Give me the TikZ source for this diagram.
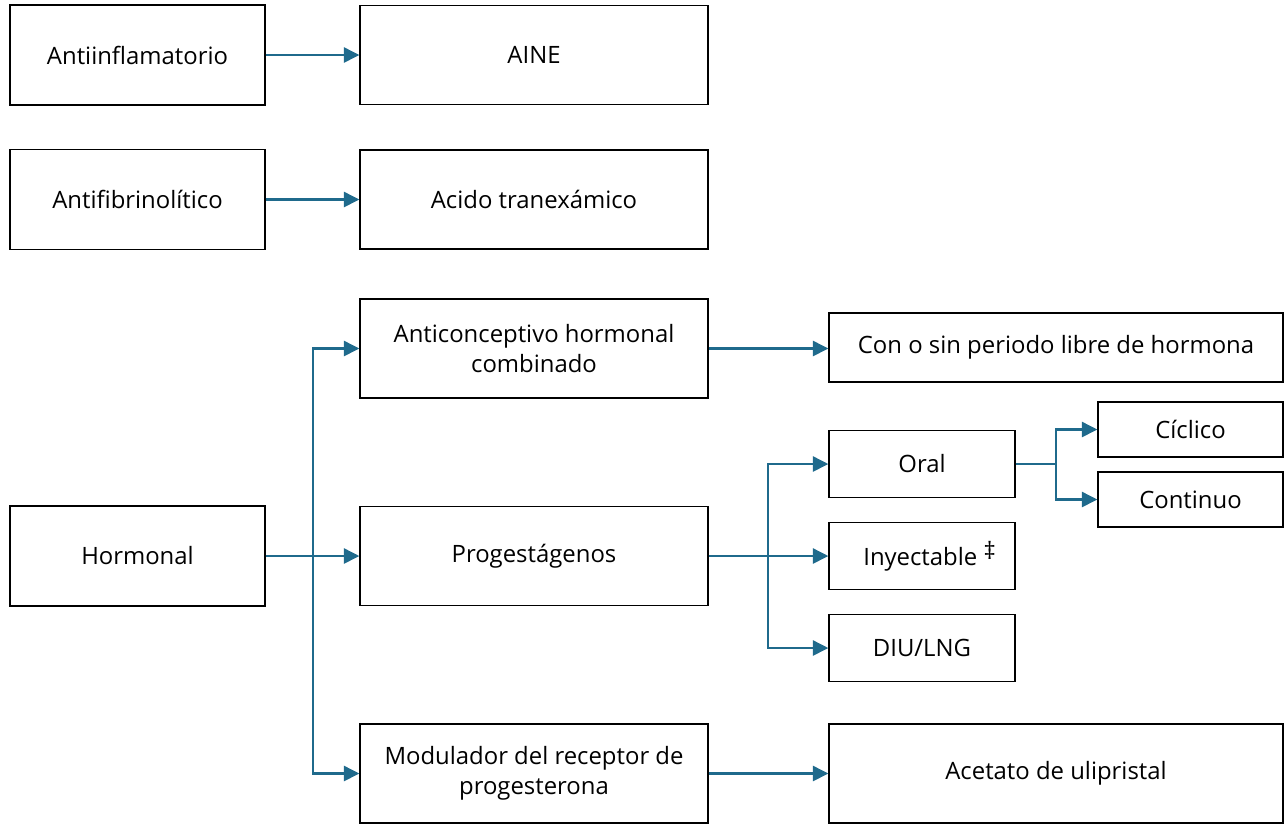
\documentclass[tikz,border=0pt]{standalone}
\usepackage{fontspec}
\setmainfont{Open Sans}
\usepackage{tikz}
\usetikzlibrary{positioning, arrows.meta, calc}
\definecolor{linkblue}{HTML}{1F6A8C}

\tikzset{
  box/.style={draw, line width=0.75pt, inner sep=2pt, align=center, font=\fontsize{13.6}{17}\selectfont},
  widebox/.style={box, minimum width=6.96cm, minimum height=1.98cm},
  leftbox/.style={box, minimum width=5.1cm, minimum height=2cm},
  smallbox/.style={box, minimum width=3.72cm, minimum height=1.34cm},
  tinybox/.style={box, minimum width=3.7cm, minimum height=1.1cm},
  arr/.style={draw=linkblue, line width=1.5pt, -{Triangle[length=3.1mm, width=3mm]}},
  lnk/.style={draw=linkblue, line width=1.5pt}
}

\begin{document}
\begin{tikzpicture}[x=0.02cm, y=-0.02cm]
	\useasboundingbox (0,0) rectangle (1284,823);

	\node[leftbox] at (137.5, 55) (antiinf) {Antiinflamatorio};
	\node[widebox] at (534, 55) (aine) {AINE};
	\node[leftbox] at (137.5, 199.5) (antifib) {Antifibrinolítico};
	\node[widebox] at (534, 199.5) (acido) {Acido tranexámico};

	\node[leftbox] at (137.5, 556) (hormonal) {Hormonal};
	\node[widebox] at (534, 348.5) (ahc) {Anticonceptivo hormonal\\combinado};
	\node[widebox] at (534, 556) (prog) {Progestágenos};
	\node[widebox] at (534, 773.5) (modul) {Modulador del receptor de\\progesterona};

	\node[box, minimum width=9.08cm, minimum height=1.38cm] at (1056, 347.5) (libre) {Con o sin periodo libre de hormona};
	\node[smallbox] at (922, 464) (oral) {Oral};
	\node[smallbox] at (922, 556) (inyect) {\hspace{0.3cm}Inyectable \raisebox{0.5ex}{‡}};
	\node[smallbox] at (922, 648) (diu) {DIU/LNG};
	\node[tinybox] at (1190.5, 429.5) (ciclico) {Cíclico};
	\node[tinybox] at (1190.5, 499.5) (continuo) {Continuo};
	\node[box, minimum width=9.08cm, minimum height=1.98cm] at (1056, 773.5) (acetato) {Acetato de ulipristal};

	% branch points
	\coordinate (hb) at (313, 556);
	\coordinate (pb) at (768, 556);
	\coordinate (ob) at (1056, 464);

	\draw[arr] (antiinf) -- (aine);
	\draw[arr] (antifib) -- (acido);

	\draw[lnk] (hormonal) -- (hb);
	\draw[arr] (hb) |- (ahc);
	\draw[arr] (hb) -- (prog);
	\draw[arr] (hb) |- (modul);

	\draw[arr] (ahc) -- (ahc -| libre.west);
	\draw[arr] (modul) -- (acetato);

	\draw[lnk] (prog) -- (pb);
	\draw[arr] (pb) |- (oral);
	\draw[arr] (pb) -- (inyect);
	\draw[arr] (pb) |- (diu);

	\draw[lnk] (oral) -- (ob);
	\draw[arr] (ob) |- (ciclico);
	\draw[arr] (ob) |- (continuo);
\end{tikzpicture}
\end{document}
